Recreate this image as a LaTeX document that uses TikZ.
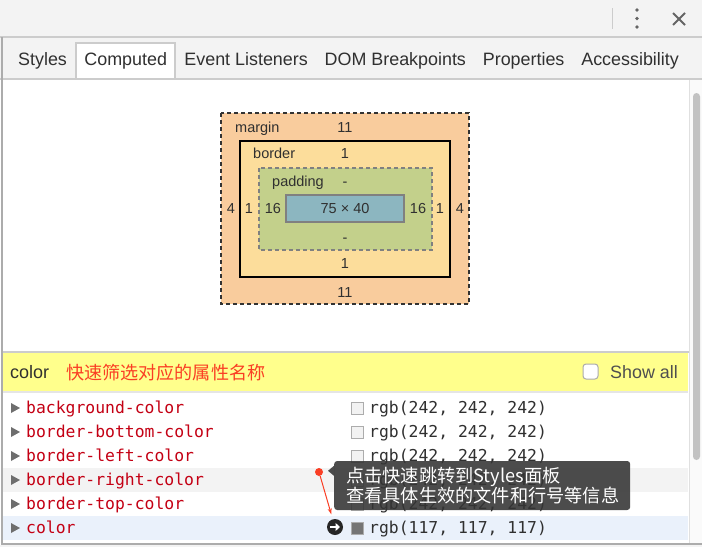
\documentclass[tikz,border=0pt]{standalone}
\usepackage{fontspec}
\setmainfont{Liberation Sans}
\setmonofont{DejaVu Sans Mono}
\newfontfamily\cjk{Noto Sans CJK SC}
\usepackage{tikz}
\usetikzlibrary{
  arrows.meta,
  calc,
  positioning,
  shapes
}
\definecolor{barbg}{RGB}{243,243,243}
\definecolor{barline}{RGB}{204,204,204}
\definecolor{sideline}{RGB}{172,172,172}
\definecolor{textdark}{RGB}{48,48,48}
\definecolor{icongray}{RGB}{100,100,100}
\definecolor{margincol}{RGB}{249,204,157}
\definecolor{bordercol}{RGB}{252,221,155}
\definecolor{paddingcol}{RGB}{195,208,139}
\definecolor{contentcol}{RGB}{140,182,192}
\definecolor{boxgray}{RGB}{128,128,128}
\definecolor{filterbg}{RGB}{255,255,140}
\definecolor{hintred}{RGB}{250,62,36}
\definecolor{propred}{RGB}{196,0,20}
\definecolor{arrowgray}{RGB}{110,110,110}
\definecolor{hoverbg}{RGB}{243,243,243}
\definecolor{selbg}{RGB}{234,241,251}
\definecolor{tipbg}{RGB}{52,52,52}
\definecolor{trackbg}{RGB}{250,250,250}
\definecolor{thumbgray}{RGB}{194,194,194}

\begin{document}
\begin{tikzpicture}[x=1pt, y=-1pt,
    tab/.style={inner xsep=8.25pt, inner ysep=0pt, minimum height=36pt,
      text height=12.5pt, text depth=3.7pt,
      font=\fontsize{17.9}{21}\selectfont, text=textdark},
    boxlbl/.style={inner sep=0pt, font=\fontsize{14.5}{17}\selectfont, text=textdark},
    prop/.style={anchor=base west, inner sep=0pt, font=\ttfamily\fontsize{16.4}{19}\selectfont, text=propred},
    val/.style={anchor=base west, inner sep=0pt, font=\ttfamily\fontsize{16.4}{19}\selectfont, text=textdark},
    swatch/.style={draw=sideline, line width=1pt, minimum size=12pt, inner sep=0pt},
    tip/.style={fill=tipbg, fill opacity=.88, text opacity=1, text=white, rounded corners=3pt,
      text width=272pt, inner xsep=12pt, minimum height=49pt, align=left,
      font=\cjk\fontsize{18.2}{18.5}\selectfont}
  ]
            \useasboundingbox (0,0) rectangle (702,547);
            \fill[white] (0,0) rectangle (702,547);
            \fill[barbg] (0,0) rectangle (702,79);
            \draw[barline, line width=1.5] (0,37) -- (702,37);
            \draw[barline, line width=1] (612,8) -- (612,29);
            \foreach \d in {10,18.5,27}
              \fill[icongray] (637,\d) circle (1.8);
            \draw[icongray, line width=2] (673,13) -- (685,25);
            \draw[icongray, line width=2] (673,25) -- (685,13);
            \node[tab, anchor=west] (styles) at (9.75,61) {Styles};
            \node[tab, right=0pt of styles, fill=white, draw=barline, line width=1.5] (computed) {Computed};
            \node[tab, right=0pt of computed] (listeners) {Event Listeners};
            \node[tab, right=0pt of listeners] (dom) {DOM Breakpoints};
            \node[tab, right=0pt of dom] (properties) {Properties};
            \node[tab, right=0pt of properties] (access) {Accessibility};
            \draw[barline, line width=1.5] (0,79) -- (702,79);
            \fill[trackbg] (689,80) rectangle (702,544);
            \draw[barline!60, line width=1] (689,80) -- (689,544);
            \fill[thumbgray, rounded corners=3.5] (693,93) rectangle (700,460);
            \draw[sideline, line width=1.5] (2,37) -- (2,547);
            \draw[black!80, fill=margincol, line width=1.5, dash pattern=on 4 off 3] (221,113) rectangle (469,304);
            \draw[black, fill=bordercol, line width=2] (240,141) rectangle (450,277);
            \draw[boxgray, fill=paddingcol, line width=1.5, dash pattern=on 4 off 3] (259,168) rectangle (432,250);
            \draw[boxgray, fill=contentcol, line width=2] (286,195) rectangle (404,222);
            \node[boxlbl, anchor=base west] (marginlbl) at (235,132) {margin};
            \node[boxlbl, anchor=base] (margintop) at (345,132) {11};
            \node[boxlbl, anchor=base west] (borderlbl) at (253,158) {border};
            \node[boxlbl, anchor=base] (bordertop) at (345,158) {1};
            \node[boxlbl, anchor=base west] (paddinglbl) at (272,186.5) {padding};
            \node[boxlbl, anchor=base] (paddingtop) at (345,186.5) {-};
            \node[boxlbl, anchor=base] (content) at (345,213) {75 × 40};
            \node[boxlbl, anchor=base] (marginleft) at (231,213) {4};
            \node[boxlbl, anchor=base] (borderleft) at (249,213) {1};
            \node[boxlbl, anchor=base] (paddingleft) at (273,213) {16};
            \node[boxlbl, anchor=base] (paddingright) at (418,213) {16};
            \node[boxlbl, anchor=base] (borderright) at (440,213) {1};
            \node[boxlbl, anchor=base] (marginright) at (460,213) {4};
            \node[boxlbl, anchor=base] (paddingbottom) at (345,242) {-};
            \node[boxlbl, anchor=base] (borderbottom) at (345,268) {1};
            \node[boxlbl, anchor=base] (marginbottom) at (345,297) {11};
            \draw[barline, line width=2] (3,352) -- (689,352);
            \fill[filterbg] (3,353) rectangle (688,391);
            \draw[barline!50, line width=1.5] (3,392) -- (688,392);
            \node[anchor=base west, inner sep=0pt, font=\fontsize{18}{21}\selectfont, text=textdark] (filter) at (10,378) {color};
            \node[anchor=base west, inner sep=0pt, font=\cjk\fontsize{18.1}{21}\selectfont, text=hintred] (hint) at (66,379) {快速筛选对应的属性名称};
            \draw[sideline, fill=white, line width=1, rounded corners=3] (583,364) rectangle (598,379);
            \node[anchor=base west, inner sep=0pt, font=\fontsize{17.9}{21}\selectfont, text=textdark!85] (showall) at (610,378) {Show all};
            \fill[hoverbg] (3,468) rectangle (688,492);
            \fill[selbg] (3,516) rectangle (688,540);
            \foreach \p/\g [count=\i from 0] in {background-color/242, border-bottom-color/242,
                border-left-color/242, border-right-color/242, border-top-color/242, color/117} {
              \fill[arrowgray] (11,{403+24*\i}) -- (20,{408+24*\i}) -- (11,{413+24*\i}) -- cycle;
              \node[prop] (prop\i) at (26,{413.5+24*\i}) {\p};
              \node[swatch, fill={rgb,255:red,\g;green,\g;blue,\g}] (sw\i) at (357.5,{408+24*\i}) {};
              \node[val] (val\i) at (369,{413.5+24*\i}) {rgb(\g, \g, \g)};
            }
            \draw[sideline, line width=1.5] (2,544) -- (702,544);
            \fill[barbg] (0,545) rectangle (702,547);
            \node[circle, fill=black!85, minimum size=16pt, inner sep=0pt] (jump) at (335,527) {};
            \draw[white, line width=2.2, -{Triangle[length=4.5pt,width=8pt]}] ($(jump.center)+(-5,0)$) -- ($(jump.center)+(5,0)$);
            \node[tip, anchor=west] (tooltip) at (334,485.5) {点击快速跳转到Styles面板\\查看具体生效的文件和行号等信息};
            \fill[tipbg, fill opacity=.88] ($(tooltip.north west)+(0,5)$) -- ++(-6,5) -- ++(6,5) -- cycle;
            \node[circle, fill=hintred, minimum size=8pt, inner sep=0pt] (dot) at (319,472) {};
            \draw[hintred, line width=1, shorten >=5pt, -{Stealth[length=6pt,width=4pt]}] (dot) -- (jump);
          \end{tikzpicture}
\end{document}
